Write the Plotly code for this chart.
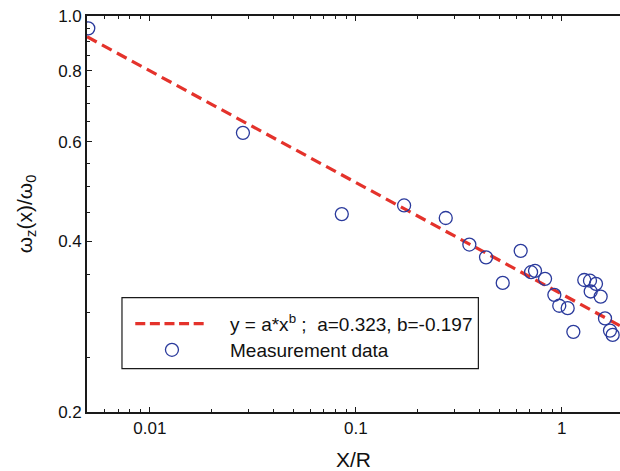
import plotly.graph_objects as go

# ---- data ----
x_data = [0.00502, 0.0283, 0.0855, 0.1716, 0.2734, 0.356, 0.429, 0.517, 0.632,
          0.710, 0.742, 0.830, 0.921, 0.973, 1.069, 1.139, 1.287, 1.372, 1.467,
          1.383, 1.546, 1.623, 1.716, 1.768]
y_data = [0.951, 0.622, 0.447, 0.463, 0.440, 0.395, 0.375, 0.338, 0.385,
          0.353, 0.355, 0.3436, 0.322, 0.308, 0.305, 0.277, 0.342, 0.341, 0.3367,
          0.3264, 0.3197, 0.2926, 0.2784, 0.2736]

fit_x = [0.00495, 1.92]
fit_y = [0.919, 0.284]

x_tick_vals = [0.01, 0.1, 1]
x_tick_text = ["0.01", "0.1", "1"]
x_minor_vals = [0.006, 0.007, 0.008, 0.009,
                0.02, 0.03, 0.04, 0.05, 0.06, 0.07, 0.08, 0.09,
                0.2, 0.3, 0.4, 0.5, 0.6, 0.7, 0.8, 0.9]
y_tick_vals = [0.2, 0.4, 0.6, 0.8, 1.0]
y_tick_text = ["0.2", "0.4", "0.6", "0.8", "1.0"]
y_minor_vals = [0.25, 0.3, 0.35, 0.45, 0.5, 0.55, 0.65, 0.7, 0.75, 0.85, 0.9, 0.95]

legend_labels = ["y = a*x<sup>b</sup> ;  a=0.323, b=-0.197", "Measurement data"]

RED = "#e4322b"
BLUE = "#2a3a9c"
FONT = "Liberation Sans, Arial, Helvetica, sans-serif"
AX = "#1a1a1a"

fig = go.Figure()
fig.add_trace(go.Scatter(x=fit_x, y=fit_y, mode="lines",
                         line=dict(color=RED, width=3.2, dash="11px,6px"),
                         showlegend=False, hoverinfo="skip"))
fig.add_trace(go.Scatter(x=x_data, y=y_data, mode="markers",
                         marker=dict(symbol="circle-open", size=13,
                                     color=BLUE, line=dict(width=1.3, color=BLUE)),
                         showlegend=False))

# plot area in pixels: left 86.7, right 620, top 15.7, bottom 411.7
L, R, T, B = 86.7, 620.0, 15.7, 411.7
W, H = R - L, B - T


def px(xp):
    return (xp - L) / W


def py(yp):
    return (B - yp) / H


shapes = [
    dict(type="rect", xref="paper", yref="paper",
         x0=px(121.7), x1=px(478.3), y0=py(368.3), y1=py(297.3),
         line=dict(color=AX, width=1.2), fillcolor="white", layer="above"),
    dict(type="line", xref="paper", yref="paper",
         x0=px(135), x1=px(203.5), y0=py(323.3), y1=py(323.3),
         line=dict(color=RED, width=3.2, dash="10px,4.6px"), layer="above"),
    dict(type="circle", xref="paper", yref="paper", xsizemode="pixel", ysizemode="pixel",
         xanchor=px(171.7), yanchor=py(349.5), x0=-6.5, x1=6.5, y0=-6.5, y1=6.5,
         line=dict(color=BLUE, width=1.3), layer="above"),
]

annotations = [
    dict(xref="paper", yref="paper", x=px(228), y=py(322.5), text=legend_labels[0],
         showarrow=False, xanchor="left", yanchor="middle",
         font=dict(family=FONT, size=19, color="#111")),
    dict(xref="paper", yref="paper", x=px(228), y=py(350), text=legend_labels[1],
         showarrow=False, xanchor="left", yanchor="middle",
         font=dict(family=FONT, size=19, color="#111")),
]

fig.update_layout(
    width=620, height=471,
    margin=dict(l=L, r=0, t=T, b=471 - B),
    paper_bgcolor="white", plot_bgcolor="white",
    showlegend=False,
    shapes=shapes, annotations=annotations,
    font=dict(family=FONT, color="#111"),
    xaxis=dict(type="log", range=[-2.3055, 0.2831],
               tickmode="array", tickvals=x_tick_vals, ticktext=x_tick_text,
               ticks="inside", ticklen=5, tickwidth=1, tickcolor=AX,
               minor=dict(tickmode="array", tickvals=x_minor_vals, ticks="inside",
                          ticklen=3, tickcolor=AX, showgrid=False),
               showline=True, linecolor=AX, linewidth=1.6, mirror="ticks",
               showgrid=False, zeroline=False,
               tickfont=dict(family=FONT, size=17, color="#111"),
               title=dict(text="X/R", font=dict(family=FONT, size=21, color="#111"),
                          standoff=17)),
    yaxis=dict(type="log", range=[-0.69897, 0.0],
               tickmode="array", tickvals=y_tick_vals, ticktext=y_tick_text,
               ticks="inside", ticklen=5, tickwidth=1, tickcolor=AX,
               minor=dict(tickmode="array", tickvals=y_minor_vals, ticks="inside",
                          ticklen=3, tickcolor=AX, showgrid=False),
               showline=True, linecolor=AX, linewidth=1.6, mirror=False,
               showgrid=False, zeroline=False,
               tickfont=dict(family=FONT, size=17, color="#111"),
               title=dict(text="ω<sub>z</sub>(x)/ω<sub>0</sub>",
                          font=dict(family=FONT, size=21, color="#111"),
                          standoff=20)),
)

fig.write_html("out.html",
               config=dict(displayModeBar=False),
               post_script="document.body.style.margin='0';"
                           "document.body.style.overflow='hidden';")
